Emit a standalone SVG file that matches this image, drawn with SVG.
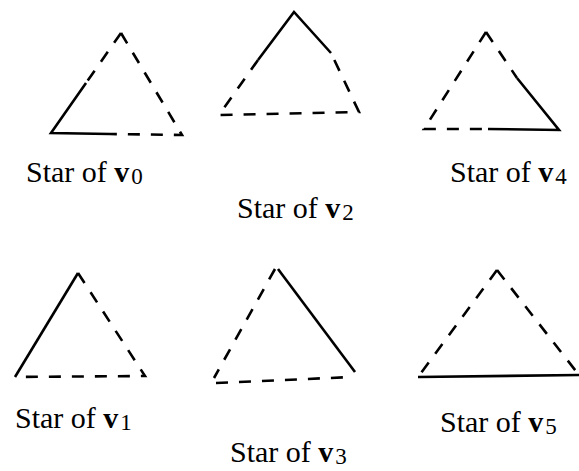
<svg xmlns="http://www.w3.org/2000/svg" width="579" height="471" viewBox="0 0 579 471">
<style>
.s{fill:none;stroke:#000;stroke-width:2.6;stroke-linecap:butt}
.d{fill:none;stroke:#000;stroke-width:2.6;stroke-dasharray:12 11}
.t{font-family:"Liberation Serif","Times New Roman",serif;font-size:30px;fill:#000}
.b{font-weight:bold}
.sub{font-size:23px;font-weight:normal}
</style>
<rect width="579" height="471" fill="#fff"/>
<g id="star-v0">
<path class="s" d="M86,83 L51,133 L110,134"/>
<path class="d" d="M121,33 L86,83"/>
<path class="d" d="M121,33 L182,135 L110,134"/>
<text class="t" x="26" y="182">Star of <tspan class="b">v</tspan><tspan class="sub" dx="2" dy="2">0</tspan></text>
</g>
<g id="star-v2">
<path class="s" d="M258,60 L294,12 L331,53"/>
<path class="d" d="M258,60 L219,115 L359,112 L331,53"/>
<text class="t" x="237" y="218">Star of <tspan class="b">v</tspan><tspan class="sub" dx="2" dy="2">2</tspan></text>
</g>
<g id="star-v4">
<path class="d" d="M486,32 L424,129 L488,129"/>
<path class="d" d="M486,32 L517,78"/>
<path class="s" d="M517,78 L559,130 L488,129"/>
<text class="t" x="450" y="182">Star of <tspan class="b">v</tspan><tspan class="sub" dx="2" dy="2">4</tspan></text>
</g>
<g id="star-v1">
<path class="s" d="M78,273 L15,377"/>
<path class="d" d="M78,273 L145,376 L15,377"/>
<text class="t" x="15" y="428">Star of <tspan class="b">v</tspan><tspan class="sub" dx="2" dy="2">1</tspan></text>
</g>
<g id="star-v3">
<path class="s" d="M278,269 L355,372"/>
<path class="d" d="M275,269 L214,378"/>
<path class="d" d="M216,383 L352,377"/>
<text class="t" x="230" y="462">Star of <tspan class="b">v</tspan><tspan class="sub" dx="2" dy="2">3</tspan></text>
</g>
<g id="star-v5">
<path class="d" d="M497,270 L418,377"/>
<path class="d" d="M497,270 L579,375"/>
<path class="s" d="M418,377 L579,375"/>
<text class="t" x="440" y="432">Star of <tspan class="b">v</tspan><tspan class="sub" dx="2" dy="2">5</tspan></text>
</g>
<g id="connectors"/>
</svg>
